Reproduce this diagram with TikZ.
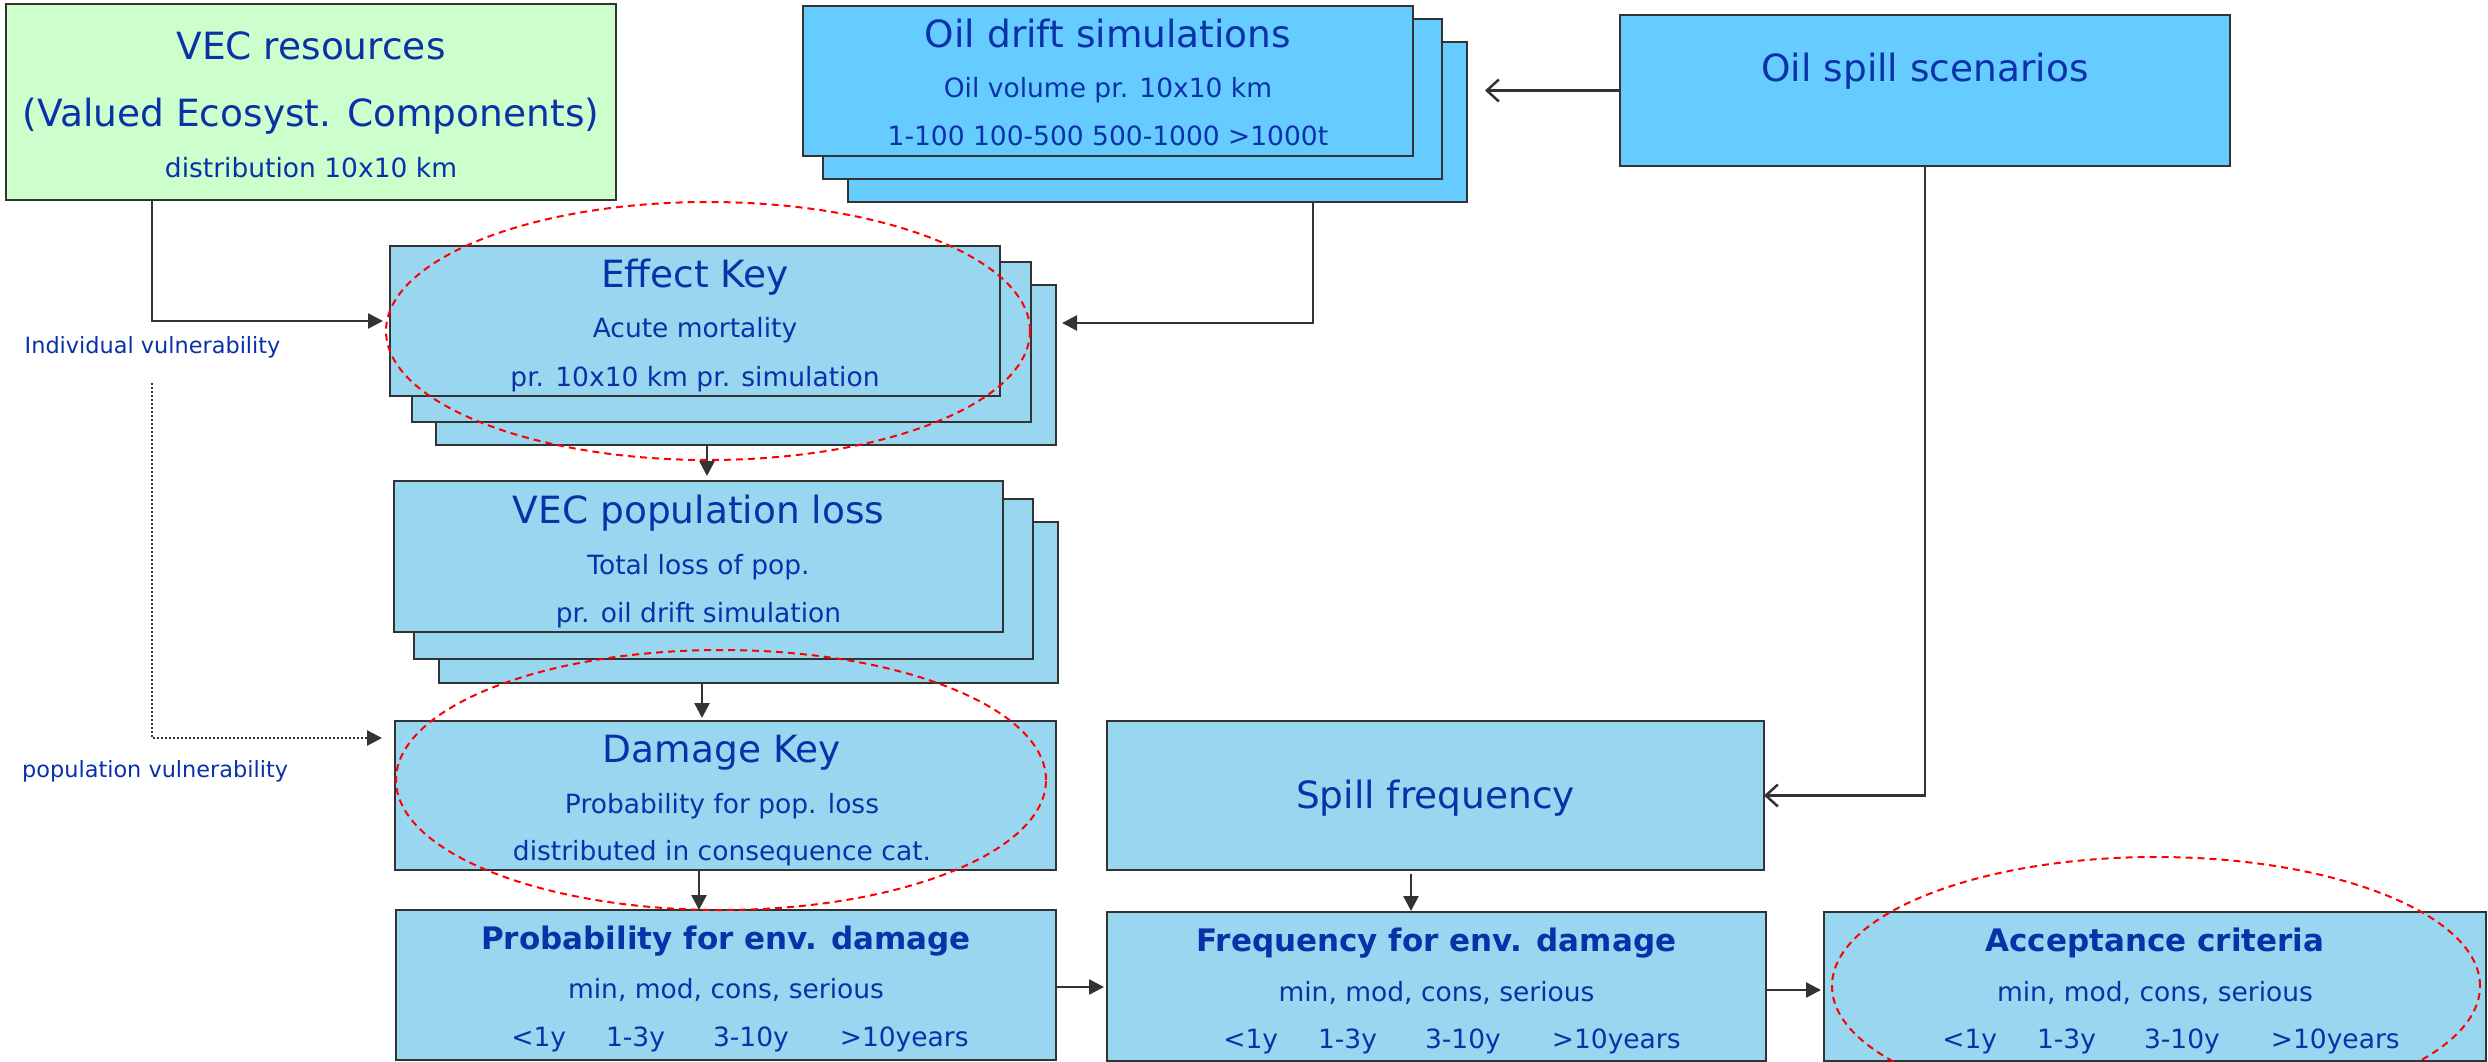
\documentclass[tikz,border=0pt]{standalone}
\usepackage{fontspec}
\setmainfont{DejaVu Sans}
\usetikzlibrary{arrows.meta,calc}
\definecolor{txt}{HTML}{0A32A8}
\definecolor{boxline}{HTML}{333333}
\definecolor{oilfill}{HTML}{66CCFF}
\definecolor{lightfill}{HTML}{99D6F0}
\definecolor{greenfill}{HTML}{CCFFCC}
\begin{document}
\begin{tikzpicture}[x=1pt,y=-1pt,
  box/.style={draw=boxline, line width=2.5pt, rectangle, inner sep=0pt, outer sep=0pt},
  big/.style={text=txt, font=\fontsize{37.5}{40}\selectfont, anchor=base, inner sep=0pt},
  small/.style={text=txt, font=\fontsize{26.5}{28}\selectfont, anchor=base, inner sep=0pt},
  boldt/.style={text=txt, font=\fontsize{31}{33}\selectfont\bfseries, anchor=base, inner sep=0pt},
  lbl/.style={text=txt, font=\fontsize{22.4}{24}\selectfont, anchor=base west, inner sep=0pt},
  conn/.style={draw=boxline, line width=2.5pt},
  tip/.style={-{Triangle[length=15pt,width=15pt]}},
  opentip/.style={-{Straight Barb[length=12pt,width=22pt]}},
  redell/.style={draw=red, line width=2pt, dash pattern=on 7pt off 5pt},
]
\useasboundingbox (0,0) rectangle (2488,1062);
\clip (0,0) rectangle (2488,1062);

% VEC resources
\node[box, fill=greenfill, minimum width=610pt, minimum height=196pt] (vec) at (311,102) {};
\node[big] (vect1) at (311,60) {VEC resources};
\node[big] (vect2) at (311,127) {(Valued Ecosyst. Components)};
\node[small] (vect3) at (311,177) {distribution 10x10 km};

% Oil drift simulations stack
\node[box, fill=oilfill, minimum width=619pt, minimum height=160pt] (odc) at (1157.5,122) {};
\node[box, fill=oilfill, minimum width=619pt, minimum height=160pt] (odb) at (1132.5,99) {};
\node[box, fill=oilfill, minimum width=610pt, minimum height=150pt] (oda) at (1108,81) {};
\node[big] (odt1) at (1108,48) {Oil drift simulations};
\node[small] (odt2) at (1108,98) {Oil volume pr. 10x10 km};
\node[small] (odt3) at (1108,146) {1-100 100-500 500-1000 >1000t};

% Oil spill scenarios
\node[box, fill=oilfill, minimum width=610pt, minimum height=151pt] (scen) at (1925,90.5) {};
\node[big] (scent) at (1925,82) {Oil spill scenarios};

% Effect Key stack
\node[box, fill=lightfill, minimum width=620pt, minimum height=160pt] (ekc) at (746,365) {};
\node[box, fill=lightfill, minimum width=619pt, minimum height=160pt] (ekb) at (721.5,342) {};
\node[box, fill=lightfill, minimum width=610pt, minimum height=150pt] (eka) at (695,321) {};
\node[big] (ekt1) at (695,287) {Effect Key};
\node[small] (ekt2) at (695,337) {Acute mortality};
\node[small] (ekt3) at (695,386) {pr. 10x10 km pr. simulation};

% VEC population loss stack
\node[box, fill=lightfill, minimum width=619pt, minimum height=161pt] (vpc) at (748.5,602.5) {};
\node[box, fill=lightfill, minimum width=619pt, minimum height=160pt] (vpb) at (723.5,579) {};
\node[box, fill=lightfill, minimum width=609pt, minimum height=151pt] (vpa) at (698.5,556.5) {};
\node[big] (vpt1) at (698.5,523) {VEC population loss};
\node[small] (vpt2) at (698.5,574) {Total loss of pop.};
\node[small] (vpt3) at (698.5,622) {pr. oil drift simulation};

% Damage Key
\node[box, fill=lightfill, minimum width=661pt, minimum height=149pt] (dmg) at (725.5,795.5) {};
\node[big] (dmgt1) at (722,762) {Damage Key};
\node[small] (dmgt2) at (722,813) {Probability for pop. loss};
\node[small] (dmgt3) at (722,860) {distributed in consequence cat.};

% Spill frequency
\node[box, fill=lightfill, minimum width=657pt, minimum height=149pt] (spill) at (1435.5,795.5) {};
\node[big] (spillt) at (1435.5,808) {Spill frequency};

% Probability for env. damage
\node[box, fill=lightfill, minimum width=660pt, minimum height=150pt] (prob) at (726,985) {};
\node[boldt] (probt1) at (726,949) {Probability for env. damage};
\node[small] (probt2) at (726,998) {min, mod, cons, serious};
\node[small] (probt3) at (740,1046) {<1y\hspace{40pt}1-3y\hspace{48pt}3-10y\hspace{51pt}>10years};

% Frequency for env. damage
\node[box, fill=lightfill, minimum width=659pt, minimum height=149pt] (freq) at (1436.5,986.5) {};
\node[boldt] (freqt1) at (1436.5,951) {Frequency for env. damage};
\node[small] (freqt2) at (1436.5,1001) {min, mod, cons, serious};
\node[small] (freqt3) at (1452,1048) {<1y\hspace{40pt}1-3y\hspace{48pt}3-10y\hspace{51pt}>10years};

% Acceptance criteria
\node[box, fill=lightfill, minimum width=662pt, minimum height=149pt] (acc) at (2155,986.5) {};
\node[boldt] (acct1) at (2155,951) {Acceptance criteria};
\node[small] (acct2) at (2155,1001) {min, mod, cons, serious};
\node[small] (acct3) at (2171,1048) {<1y\hspace{40pt}1-3y\hspace{48pt}3-10y\hspace{51pt}>10years};

% labels
\node[lbl] (indv) at (24.5,353) {Individual vulnerability};
\node[lbl] (popv) at (22,777) {population vulnerability};

% connector helper coordinates
\coordinate (vecout) at (152,200);
\coordinate (dotstart) at (152,383);
\coordinate (poptip) at (382,738);
\coordinate (odout) at (1313,202);
\coordinate (ektip) at (1062,323);
\coordinate (a1s) at (707,445);
\coordinate (a2s) at (702,683);
\coordinate (a3s) at (699,870);
\coordinate (a4s) at (1411,874);
\coordinate (h1) at (0,987);
\coordinate (h2) at (0,990);

% connectors
\draw[conn,opentip,shorten >=18pt] (scen.west) -- (scen.west -| odc.east);
\draw[conn,tip] (odout) |- (ektip);
\draw[conn,tip,shorten >=7pt] (vecout) |- (eka.west);
\draw[conn,tip,dash pattern=on 2pt off 2pt] (dotstart) |- (poptip);
\draw[conn,tip,shorten >=5pt] (a1s) -- (a1s |- vpa.north);
\draw[conn,tip,shorten >=3pt] (a2s) -- (a2s |- dmg.north);
\draw[conn,tip] (a3s) -- (a3s |- prob.north);
\draw[conn,tip,shorten >=3pt] (prob.east |- h1) -- (freq.west |- h1);
\draw[conn,tip,shorten >=1pt] (a4s) -- (a4s |- freq.north);
\draw[conn,tip,shorten >=3pt] (freq.east |- h2) -- (acc.west |- h2);
\draw[conn,opentip] (scen.south) |- (spill.east);

% red dashed ellipses
\draw[redell] (708,331) ellipse [x radius=322pt, y radius=129pt];
\draw[redell] (721,780) ellipse [x radius=325pt, y radius=130pt];
\draw[redell] (2156,986) ellipse [x radius=324pt, y radius=129pt];
\end{tikzpicture}
\end{document}
